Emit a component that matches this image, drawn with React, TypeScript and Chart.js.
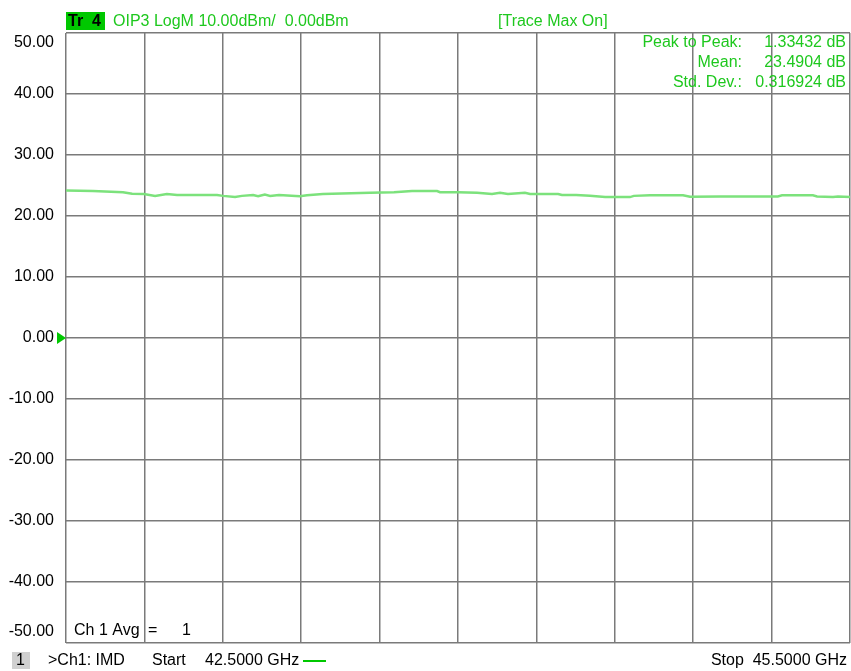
import React, { useEffect, useRef } from "react";
import { Chart, registerables } from "chart.js";

Chart.register(...registerables);

// Frequency (GHz) and OIP3 trace values (dB)
const freqGHz = [
  42.5, 42.603, 42.718, 42.753, 42.798, 42.841, 42.886, 42.925, 43.078, 43.101,
  43.147, 43.173, 43.216, 43.235, 43.261, 43.281, 43.315, 43.395, 43.422, 43.483,
  43.663, 43.755, 43.824, 43.92, 43.931, 44.0, 44.073, 44.13, 44.161, 44.191,
  44.256, 44.276, 44.383, 44.398, 44.452, 44.505, 44.563, 44.658, 44.673, 44.735,
  44.861, 44.888, 45.003, 45.224, 45.24, 45.358, 45.374, 45.435, 45.454, 45.5,
];
const oip3dB = [
  24.2, 24.1, 23.9, 23.65, 23.6, 23.3, 23.6, 23.45, 23.45, 23.3,
  23.1, 23.3, 23.45, 23.25, 23.5, 23.3, 23.45, 23.25, 23.4, 23.6,
  23.8, 23.9, 24.1, 24.1, 23.9, 23.9, 23.8, 23.6, 23.8, 23.6,
  23.8, 23.6, 23.6, 23.45, 23.45, 23.3, 23.1, 23.1, 23.3, 23.4,
  23.4, 23.15, 23.2, 23.2, 23.4, 23.4, 23.2, 23.1, 23.2, 23.1,
];

const xTicks = [42.5, 42.8, 43.1, 43.4, 43.7, 44.0, 44.3, 44.6, 44.9, 45.2, 45.5];
const yTicks = [50, 40, 30, 20, 10, 0, -10, -20, -30, -40, -50];
const yLabels = yTicks.map((v) => v.toFixed(2));

const traceTitle = "OIP3 LogM 10.00dBm/  0.00dBm";
const traceTag = "Tr  4";
const traceMode = "[Trace Max On]";
const statLabels = ["Peak to Peak:", "Mean:", "Std. Dev.:"];
const statValues = ["1.33432 dB", "23.4904 dB", "0.316924 dB"];
const avgLabel = ["Ch 1 Avg", "=", "1"];
const channelNo = "1";
const footerLeft = [">Ch1: IMD", "Start", "42.5000 GHz"];
const footerRight = "Stop  45.5000 GHz";

const GREEN_TEXT = "#1ec81e";
const GREEN_TRACE = "#7ce27c";
const FONT = '16px "Liberation Sans", Arial, sans-serif';
const GRID = "#7a7a7a";

const overlay = {
  id: "vnaOverlay",
  afterDraw(chart: any) {
    const ctx = chart.ctx as CanvasRenderingContext2D;
    const ys = chart.scales.y;
    const area = chart.chartArea;
    ctx.save();
    ctx.font = FONT;

    // Y labels
    ctx.fillStyle = "#000";
    ctx.textAlign = "right";
    ctx.textBaseline = "middle";
    yTicks.forEach((v, i) => {
      let py = ys.getPixelForValue(v);
      if (i === 0) py += 10;
      if (i === yTicks.length - 1) py -= 11;
      ctx.fillText(yLabels[i], 54, py);
    });

    // reference marker at 0
    const p0 = ys.getPixelForValue(0);
    ctx.fillStyle = "#00c800";
    ctx.beginPath();
    ctx.moveTo(57, p0 - 6);
    ctx.lineTo(66, p0);
    ctx.lineTo(57, p0 + 6);
    ctx.closePath();
    ctx.fill();

    // Header
    ctx.fillStyle = "#00c800";
    ctx.fillRect(66, 12, 39, 18);
    ctx.fillStyle = "#000";
    ctx.textAlign = "left";
    ctx.font = 'bold 16px "Liberation Sans", Arial, sans-serif';
    ctx.fillText(traceTag, 68, 21.5);
    ctx.font = FONT;
    ctx.fillStyle = GREEN_TEXT;
    ctx.fillText(traceTitle, 113, 21.5);
    ctx.fillText(traceMode, 498, 21.5);

    // Statistics
    statLabels.forEach((s, i) => {
      const py = area.top + 10 + i * 20;
      ctx.textAlign = "right";
      ctx.fillText(s, 742, py);
      ctx.fillText(statValues[i], 846, py);
    });

    // Avg label inside plot
    ctx.fillStyle = "#000";
    ctx.textAlign = "left";
    const ay = area.bottom - 12;
    ctx.fillText(avgLabel[0], 74, ay);
    ctx.fillText(avgLabel[1], 148, ay);
    ctx.fillText(avgLabel[2], 182, ay);

    // Footer
    const fy = 661;
    ctx.fillStyle = "#d0d0d0";
    ctx.fillRect(12, 652, 18, 17);
    ctx.fillStyle = "#000";
    ctx.fillText(channelNo, 16, fy);
    ctx.fillText(footerLeft[0], 48, fy);
    ctx.fillText(footerLeft[1], 152, fy);
    ctx.fillText(footerLeft[2], 205, fy);
    ctx.strokeStyle = "#00c800";
    ctx.lineWidth = 2;
    ctx.beginPath();
    ctx.moveTo(303, fy);
    ctx.lineTo(326, fy);
    ctx.stroke();
    ctx.textAlign = "right";
    ctx.fillText(footerRight, 847, fy);
    ctx.restore();
  },
};

export default function App() {
  const ref = useRef<HTMLCanvasElement | null>(null);
  useEffect(() => {
    if (!ref.current) return;
    const data = freqGHz.map((f, i) => ({ x: f, y: oip3dB[i] }));
    const chart = new Chart(ref.current, {
      type: "line",
      data: {
        datasets: [
          {
            data,
            borderColor: GREEN_TRACE,
            borderWidth: 2.5,
            pointRadius: 0,
            tension: 0,
            fill: false,
          },
        ],
      },
      options: {
        animation: false,
        responsive: true,
        maintainAspectRatio: false,
        layout: { padding: { top: 33, right: 1, left: 0, bottom: 0 } },
        plugins: { legend: { display: false }, tooltip: { enabled: false } },
        scales: {
          x: {
            type: "linear",
            min: 42.5,
            max: 45.5,
            afterBuildTicks: (s: any) => {
              s.ticks = xTicks.map((v) => ({ value: v }));
            },
            afterFit: (s: any) => {
              s.height = 28;
            },
            ticks: { display: false },
            grid: { color: GRID, lineWidth: 1.5, drawTicks: false },
            border: { display: false },
          },
          y: {
            min: -50,
            max: 50,
            afterBuildTicks: (s: any) => {
              s.ticks = yTicks.map((v) => ({ value: v }));
            },
            afterFit: (s: any) => {
              s.width = 66;
            },
            ticks: { display: false },
            grid: { color: GRID, lineWidth: 1.5, drawTicks: false },
            border: { display: false },
          },
        },
      },
      plugins: [overlay],
    });
    return () => chart.destroy();
  }, []);
  return (
    <div style={{ position: "absolute", left: 0, top: 0, width: 851, height: 671, background: "#fff" }}>
      <canvas ref={ref} />
    </div>
  );
}
